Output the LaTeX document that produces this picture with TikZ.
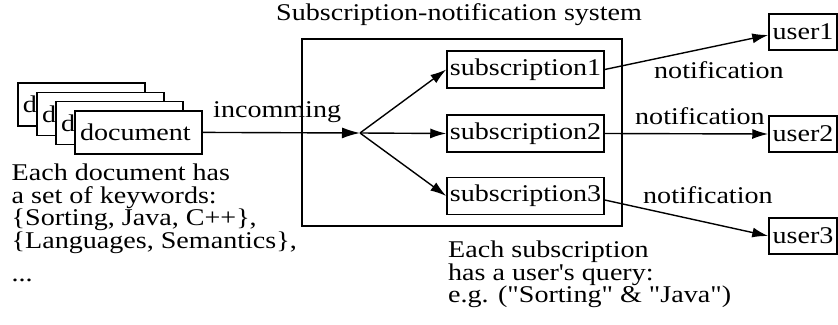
\documentclass[tikz,border=0pt]{standalone}
\usepackage{fontspec}
\setmainfont{Liberation Serif}[FakeStretch=1.17, Ligatures=TeXOff]
\usetikzlibrary{arrows.meta,calc}

\tikzset{
  box/.style={draw, line width=1.5pt, inner sep=0pt, align=center},
  docbox/.style={draw, fill=white, line width=1.5pt, text width=117pt,
    inner xsep=5pt, inner ysep=0pt, minimum height=43pt, align=left},
  subbox/.style={box, minimum width=157pt, minimum height=37pt},
  userbox/.style={box, minimum width=68pt, minimum height=36pt},
  arr/.style={line width=1.4pt, -{Latex[length=16pt,width=10pt]}},
  txt/.style={inner sep=0pt, align=left}
}

\begin{document}
\begin{tikzpicture}[x=1pt, y=-1pt, font=\fontsize{24}{22.7}\selectfont]
\useasboundingbox (0,0) rectangle (838,324);

% stack of incoming documents
\node[docbox] (d1) at (81.5,104.5) {document};
\node[docbox] (d2) at (100.5,113.8) {document};
\node[docbox] (d3) at (119.5,123.1) {document};
\node[docbox] (d4) at (138.5,132.4) {document};

% the subscription-notification system
\node[txt, anchor=base west] (title) at (276,20) {Subscription-notification system};
\node[box, minimum width=320pt, minimum height=187pt] (sys) at (462,132.5) {};
\coordinate (fork) at (360,133);

\node[subbox] (s1) at (525.5,69.5) {subscription1};
\node[subbox] (s2) at (525.5,133.5) {subscription2};
\node[subbox] (s3) at (525.5,196) {subscription3};

% users
\node[userbox] (u1) at (803,32) {user1};
\node[userbox] (u2) at (803,134) {user2};
\node[userbox] (u3) at (803,236) {user3};

% connectors
\draw[arr, -{Latex[length=18pt,width=11pt]}] (d4.east) -- (fork);
\node[txt, anchor=base west] (inlbl) at (213,117) {incomming};
\draw[arr] (fork) -- (s1.west);
\draw[arr] (fork) -- (s2.west);
\draw[arr] (fork) -- (s3.west);

\draw[arr] (s1.east) -- ($(u1.west)+(0,3)$);
\draw[arr] (s2.east) -- (u2.west);
\draw[arr] ($(s3.east)+(0,4)$) -- (u3.west);

\node[txt, anchor=base west] (n1) at (654,78) {notification};
\node[txt, anchor=base west] (n2) at (635,124) {notification};
\node[txt, anchor=base west] (n3) at (643,203) {notification};

% explanations
\node[txt, anchor=north west] (keys) at (11.5,163.7)
  {Each document has\\a set of keywords:\\\{Sorting, Java, C++\},\\\{Languages, Semantics\},\\[10pt]...};
\node[txt, anchor=north west] (query) at (448,240.7)
  {Each subscription\\has a user's query:\\e.g. ("Sorting" \& "Java")};
\end{tikzpicture}
\end{document}
